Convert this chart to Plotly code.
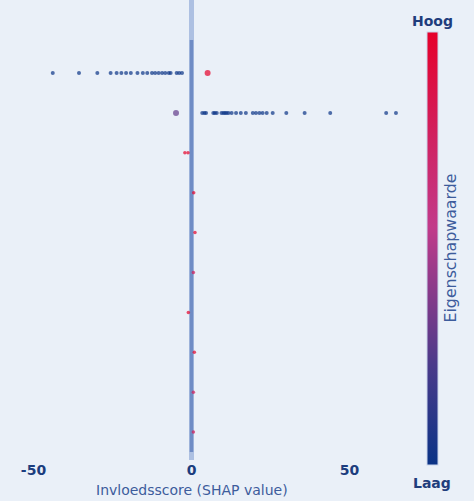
import plotly.graph_objects as go

# ---------------- data ----------------
features = ["F1", "F2", "F3", "F4", "F5", "F6", "F7", "F8", "F9", "F10"]  # top to bottom

shap_f1 = [-43.9, -35.6, -29.8, -25.6, -23.7, -22.2, -20.7, -19.2, -17.1, -15.4,
           -14.0, -12.5, -11.5, -10.4, -9.3, -8.3, -7.2, -6.6, -4.7, -3.9, -3.0, 5.1]
val_f1 = [0.0] * 21 + [1.0]

shap_f2 = [-4.9, 3.4, 4.1, 4.6, 6.9, 7.4, 8.0, 9.5, 10.1, 10.6, 11.1, 11.7, 12.7,
           14.1, 15.6, 17.2, 19.4, 20.4, 21.5, 22.5, 23.8, 25.7, 30.0, 35.8, 43.9,
           61.6, 64.7]
val_f2 = [0.3] + [0.0] * 26

shap_f3 = [-2.1, -1.1]
val_f3 = [1.0, 1.0]
shap_f4 = [0.7]
val_f4 = [1.0]
shap_f5 = [1.1]
val_f5 = [1.0]
shap_f6 = [0.6]
val_f6 = [0.8]
shap_f7 = [-1.0]
val_f7 = [1.0]
shap_f8 = [0.9]
val_f8 = [1.0]
shap_f9 = [0.6]
val_f9 = [0.8]
shap_f10 = [0.6]
val_f10 = [0.8]

shap_rows = [shap_f1, shap_f2, shap_f3, shap_f4, shap_f5,
             shap_f6, shap_f7, shap_f8, shap_f9, shap_f10]
val_rows = [val_f1, val_f2, val_f3, val_f4, val_f5,
            val_f6, val_f7, val_f8, val_f9, val_f10]

x_ticks = [-50, 0, 50]
x_tick_text = ["-50", "0", "50"]
color_high, color_low = "Hoog", "Laag"
colorbar_title = "Eigenschapwaarde"
x_title = "Invloedsscore (SHAP value)"

# ---------------- build ----------------
n = len(features)
xs, ys, cs, sz = [], [], [], []
for i, (sv, fv) in enumerate(zip(shap_rows, val_rows)):
    ypos = n - 1 - i
    for s, v in zip(sv, fv):
        xs.append(s)
        ys.append(ypos)
        cs.append(v)
        if i < 2 and (v >= 0.99 or 0.2 < v < 0.5):
            sz.append(6)
        elif i >= 2:
            sz.append(3.5)
        else:
            sz.append(4)

colorscale = [[0.0, "#0a3386"], [0.23, "#4a3a8a"], [0.45, "#9a3a8a"],
              [0.55, "#c23a8a"], [0.75, "#d02262"], [1.0, "#e6002a"]]

bg = "#eaf0f8"

fig = go.Figure()

# dense cluster of points around zero shown as a band over all rows
fig.add_trace(go.Scatter(
    x=[0, 0], y=[n - 1 + 0.83, -0.5], mode="lines",
    line=dict(color="rgba(100,130,192,0.85)", width=3.5),
    hoverinfo="skip", showlegend=False))

fig.add_trace(go.Scatter(
    x=xs, y=ys, mode="markers",
    marker=dict(size=sz, color=cs, cmin=0, cmax=1, colorscale=colorscale,
                line=dict(width=0),
                showscale=True,
                colorbar=dict(
                    thickness=11, lenmode="pixels", len=433,
                    yanchor="bottom", y=-5 / 460, yref="paper",
                    xanchor="left", x=(427 - 20) / 380, xpad=0, ypad=0,
                    outlinewidth=1, outlinecolor="#c9d4ea",
                    showticklabels=False, ticks="")),
    hoverinfo="skip", showlegend=False))

fig.add_annotation(text=f"<b>{color_high}</b>", xref="paper", yref="paper",
                   x=(432 - 20) / 380, y=(460 - 21) / 460, showarrow=False,
                   xanchor="center", yanchor="middle",
                   font=dict(family="DejaVu Sans", size=14, color="#1f3d7c"))
fig.add_annotation(text=f"<b>{color_low}</b>", xref="paper", yref="paper",
                   x=(432 - 20) / 380, y=(460 - 483) / 460, showarrow=False,
                   xanchor="center", yanchor="middle",
                   font=dict(family="DejaVu Sans", size=14, color="#1f3d7c"))
# colour bar title, rotated, beside the bar
fig.add_annotation(text=colorbar_title, xref="paper", yref="paper",
                   x=(449.5 - 20) / 380, y=(460 - 248) / 460, showarrow=False,
                   textangle=-90, xanchor="center", yanchor="middle",
                   font=dict(family="DejaVu Sans", size=15.8, color="#3d5c9c"))
# x-axis title, centred under the zero line as in the reference
fig.add_annotation(text=x_title, xref="x", yref="paper",
                   x=0, y=(460 - 490) / 460, showarrow=False,
                   xanchor="center", yanchor="middle",
                   font=dict(family="DejaVu Sans", size=14, color="#3d5c9c"))

x0 = (20 - 191.5) / 3.16
x1 = (400 - 191.5) / 3.16

fig.update_layout(
    width=474, height=501,
    margin=dict(l=20, r=74, t=0, b=41),
    paper_bgcolor=bg, plot_bgcolor=bg,
    font=dict(family="DejaVu Sans", size=14, color="#3d5c9c"),
    xaxis=dict(range=[x0, x1], tickvals=x_ticks, ticktext=x_tick_text,
               tickfont=dict(family="DejaVu Sans", size=14, color="#1c3d7e", weight="bold"),
               showgrid=False, zeroline=True, zerolinecolor="#adc0e2", zerolinewidth=5,
               showline=False, ticks=""),
    yaxis=dict(range=[-0.70, n - 1 + 1.83], showticklabels=False, showgrid=False,
               zeroline=False, showline=False, ticks=""),
)

fig.write_html("out.html",
               config={"displayModeBar": False},
               post_script="document.body.style.margin='0px';"
                           "document.body.style.background='" + bg + "';")
